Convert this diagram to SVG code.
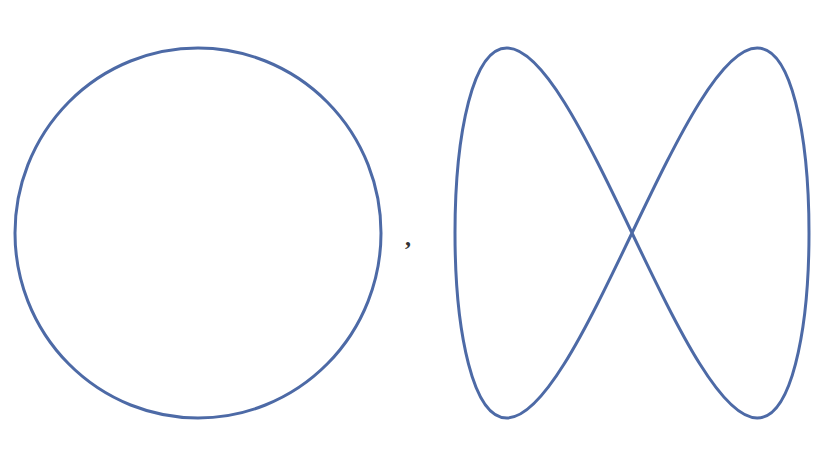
<svg xmlns="http://www.w3.org/2000/svg" width="840" height="462" viewBox="0 0 840 462">
<style>
.curve{fill:none;stroke:#4d6aa6;stroke-width:3;stroke-linejoin:round}
.punct{font-family:"Liberation Serif",serif;font-size:24px;font-weight:bold;fill:#333}
</style>
<rect width="840" height="462" fill="#ffffff"/>
<g id="circle">
<ellipse class="curve" cx="198" cy="233" rx="183" ry="185"/>
</g>
<g id="comma">
<text class="punct" x="405" y="245">,</text>
</g>
<g id="figure-eight">
<path class="curve" d="M632,233 C655.17,184.57 678.33,136.44 699.74,102.19 C721.15,67.94 740.78,48 757.16,48 C773.54,48 786.66,67.94 795.53,102.19 C804.4,136.44 809,184.57 809,233 C809,281.43 804.4,329.56 795.53,363.81 C786.66,398.06 773.54,418 757.16,418 C740.78,418 721.15,398.06 699.74,363.81 C678.33,329.56 655.17,281.43 632,233 C608.83,184.57 585.67,136.44 564.26,102.19 C542.85,67.94 523.22,48 506.84,48 C490.46,48 477.34,67.94 468.47,102.19 C459.6,136.44 455,184.57 455,233 C455,281.43 459.6,329.56 468.47,363.81 C477.34,398.06 490.46,418 506.84,418 C523.22,418 542.85,398.06 564.26,363.81 C585.67,329.56 608.83,281.43 632,233 Z"/>
</g>
</svg>
